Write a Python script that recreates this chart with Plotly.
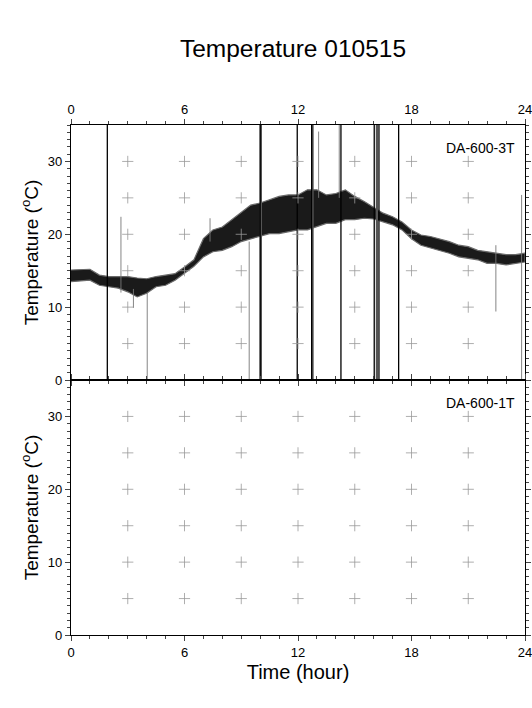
import plotly.graph_objects as go

# hourly (half-hour) envelope of the DA-600-3T trace
hours = [0, 1, 1.5, 2, 2.5, 3, 3.5, 4, 4.5, 5, 5.5, 6, 6.5, 7, 7.5, 8,
         8.5, 9, 9.5, 10, 10.5, 11, 11.5, 12, 12.5, 13, 13.5, 14, 14.5, 15,
         15.5, 16, 16.5, 17, 17.5, 18, 18.5, 19, 19.5, 20, 20.5, 21, 21.5,
         22, 22.5, 23, 23.5, 24]
temp_hi = [15.1, 15.2, 14.4, 14.2, 14.2, 14.2, 14.0, 13.9, 14.2, 14.4, 14.6,
           15.5, 16.5, 19.4, 20.6, 21.0, 22.0, 23.1, 24.0, 24.3, 24.7, 25.2,
           25.4, 25.4, 26.1, 26.1, 25.4, 25.6, 26.1, 25.2, 24.5, 23.7, 22.9,
           22.4, 21.7, 20.6, 19.9, 19.7, 19.4, 19.0, 18.5, 18.3, 17.8, 17.6,
           17.4, 17.2, 17.2, 17.4]
temp_lo = [13.5, 13.7, 13.0, 12.8, 12.6, 12.1, 11.4, 11.9, 12.8, 13.0, 13.7,
           14.7, 15.6, 16.9, 17.6, 17.8, 18.3, 19.0, 19.4, 19.7, 20.1, 20.1,
           20.4, 20.6, 20.6, 21.0, 21.5, 21.5, 22.0, 22.0, 22.2, 22.1, 21.7,
           21.3, 20.6, 19.4, 18.5, 18.1, 17.8, 17.4, 16.9, 16.7, 16.5, 16.0,
           16.0, 15.8, 16.0, 16.2]

# dropouts spanning the whole 0-35 range
full_black_t = [1.92, 10.0, 11.96, 12.72, 14.27, 16.03, 16.28, 17.32]
full_gray_t = [10.04, 12.77, 16.17]

# partial spikes
spike_t = [2.64, 3.3, 4.03, 7.35, 9.42, 13.09, 14.18, 22.46, 23.82]
spike_lo = [12.0, 9.9, 0.0, 19.0, 0.0, 25.0, 25.0, 9.4, 0.0]
spike_hi = [22.4, 12.5, 12.0, 22.2, 19.0, 34.1, 35.0, 18.5, 25.4]

grid_x = [3, 6, 9, 12, 15, 18, 21]
grid_y = [5, 10, 15, 20, 25, 30]

panel_names = ["DA-600-3T", "DA-600-1T"]


def vlines(ts, lo, hi):
    xs, ys = [], []
    for t, a, b in zip(ts, lo, hi):
        xs += [t, t, None]
        ys += [a, b, None]
    return xs, ys


fig = go.Figure()

# noisy temperature band
fig.add_trace(go.Scatter(x=hours + hours[::-1], y=temp_hi + temp_lo[::-1],
                         fill="toself", fillcolor="#1a1a1a",
                         line=dict(color="#6a6a6a", width=1.2),
                         mode="lines", xaxis="x", yaxis="y"))

xs, ys = vlines(full_gray_t, [0] * len(full_gray_t), [35] * len(full_gray_t))
fig.add_trace(go.Scatter(x=xs, y=ys, mode="lines",
                         line=dict(color="#555", width=2.2),
                         xaxis="x", yaxis="y"))
xs, ys = vlines(full_black_t, [0] * len(full_black_t), [35] * len(full_black_t))
fig.add_trace(go.Scatter(x=xs, y=ys, mode="lines",
                         line=dict(color="black", width=1.3),
                         xaxis="x", yaxis="y"))
xs, ys = vlines(spike_t, spike_lo, spike_hi)
fig.add_trace(go.Scatter(x=xs, y=ys, mode="lines",
                         line=dict(color="#777", width=0.9),
                         xaxis="x", yaxis="y"))

# "+" grid marks in both panels
gx = [x for x in grid_x for _ in grid_y]
gy = [y for _ in grid_x for y in grid_y]
for xa, ya in [("x", "y"), ("x2", "y2")]:
    fig.add_trace(go.Scatter(x=gx, y=gy, mode="markers",
                             marker=dict(symbol="cross-thin", size=8,
                                         line=dict(color="#999", width=0.8)),
                             xaxis=xa, yaxis=ya))

font = dict(family="Liberation Sans, Arial, sans-serif", color="black")

xcommon = dict(range=[0, 24], dtick=6, tick0=0, ticks="outside", ticklen=5,
               tickwidth=1, showline=True, linewidth=1.2, linecolor="black",
               mirror="allticks", showgrid=False, zeroline=False,
               automargin=False, ticklabeloverflow="allow",
               tickfont=dict(size=13),
               minor=dict(dtick=1, ticks="outside", ticklen=3,
                          tickcolor="#444"))
ycommon = dict(range=[0, 35], dtick=10, tick0=0, ticks="outside", ticklen=5,
               tickwidth=1, showline=True, linewidth=1.2, linecolor="black",
               mirror="allticks", showgrid=False, zeroline=False,
               automargin=False, tickfont=dict(size=13),
               title=dict(text="Temperature (<sup>o</sup>C)",
                          font=dict(size=19), standoff=4),
               minor=dict(dtick=1, ticks="outside", ticklen=3,
                          tickcolor="#444"))

fig.update_layout(
    width=532, height=708,
    margin=dict(l=71, r=7, t=125, b=73),
    paper_bgcolor="white", plot_bgcolor="white",
    showlegend=False, font=font,
    title=dict(text="Temperature 010515", x=293 / 532, xanchor="center",
               y=1 - 48 / 708, yanchor="middle", font=dict(size=24.5)),
    xaxis=dict(xcommon, anchor="y", side="top", domain=[0, 1]),
    yaxis=dict(ycommon, anchor="x", domain=[0.5, 1]),
    xaxis2=dict(xcommon, anchor="y2", side="bottom", domain=[0, 1],
                title=dict(text="Time (hour)", font=dict(size=20),
                           standoff=6)),
    yaxis2=dict(ycommon, anchor="x2", domain=[0, 0.5]),
)

for name, ya in zip(panel_names, ["y", "y2"]):
    fig.add_annotation(text=name, x=23.6, y=31.8, xref="x", yref=ya,
                       xanchor="right", yanchor="middle", showarrow=False,
                       font=dict(size=14))

# drop the default page margin so the figure fills the window exactly
fig.write_html("out.html", config={"displayModeBar": False},
               post_script="document.body.style.margin='0';")
